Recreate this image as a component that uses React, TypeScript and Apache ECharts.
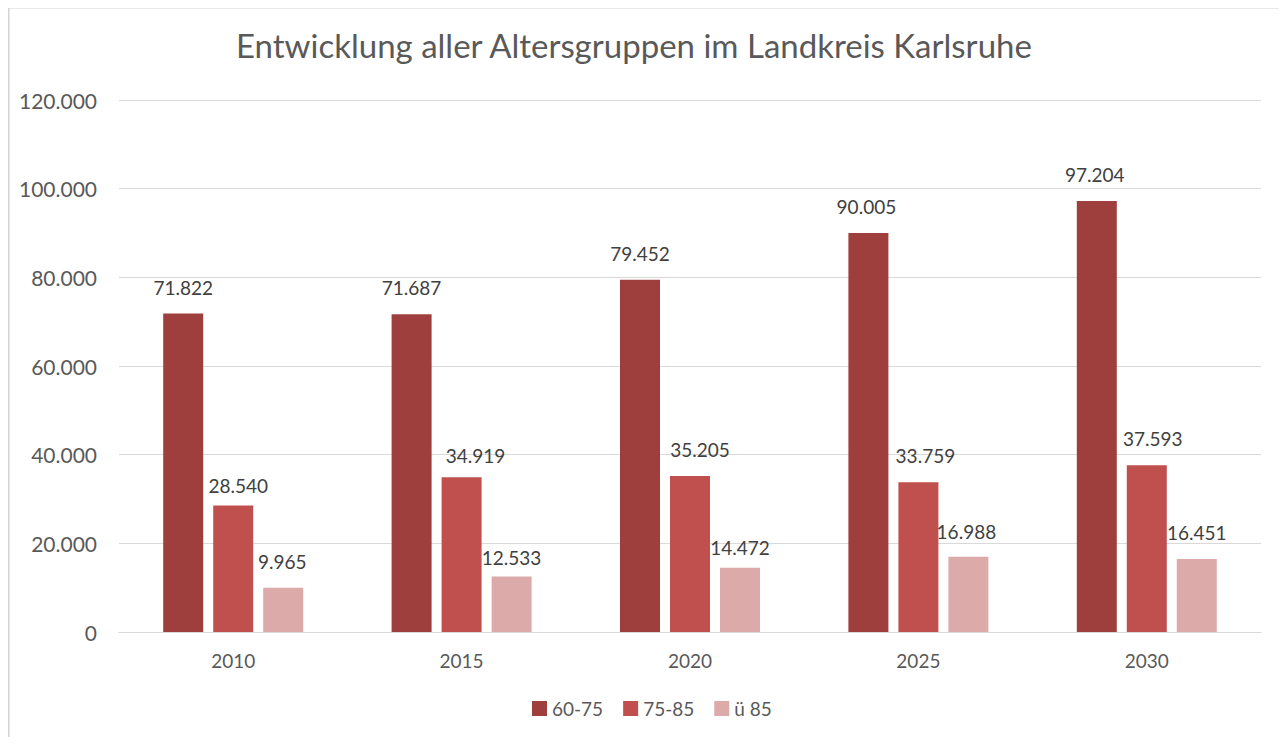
import React, { useEffect, useRef } from "react";
import * as echarts from "echarts";

const categories = ["2010", "2015", "2020", "2025", "2030"];
const seriesNames = ["60-75", "75-85", "ü 85"];
const values6075 = [71822, 71687, 79452, 90005, 97204];
const values7585 = [28540, 34919, 35205, 33759, 37593];
const valuesU85 = [9965, 12533, 14472, 16988, 16451];
const colors = ["#9e3f3d", "#c0504d", "#dbaaa9"];
const title = "Entwicklung aller Altersgruppen im Landkreis Karlsruhe";

// small label nudges [dx, dy] in px, as placed in the original
const labelNudge6075 = [[0, 0], [0, 0], [0, 0], [-2, 0], [-2, 0]];
const labelNudge7585 = [[5, 7], [14, 5], [10, 0], [7, 0], [6, 0]];
const labelNudgeU85 = [[-1, 0], [0, 8], [0, 6], [-2, 1], [0, 0]];

const fmt = (v: number) =>
  String(Math.round(v)).replace(/\B(?=(\d{3})+(?!\d))/g, ".");

export default function App() {
  const ref = useRef<HTMLDivElement>(null);
  useEffect(() => {
    if (!ref.current) return;
    const chart = echarts.init(ref.current, undefined, { renderer: "svg" });
    const font = "Lato, 'Open Sans', sans-serif";
    const data = [values6075, values7585, valuesU85];
    const nudges = [labelNudge6075, labelNudge7585, labelNudgeU85];
    chart.setOption({
      animation: false,
      backgroundColor: "#ffffff",
      textStyle: { fontFamily: font },
      title: {
        text: title,
        left: 231,
        top: 23,
        textStyle: {
          fontFamily: font,
          fontSize: 33,
          fontWeight: 400,
          color: "#595959",
        },
      },
      graphic: [
        {
          type: "rect",
          left: 6,
          top: 5,
          z: 100,
          silent: true,
          shape: { width: 1300, height: 770 },
          style: { fill: null, stroke: "#d4d4d4", lineWidth: 2 },
        },
      ],
      legend: {
        bottom: 22,
        left: 527,
        itemWidth: 15,
        itemHeight: 15,
        itemGap: 20,
        icon: "rect",
        textStyle: { fontFamily: font, fontSize: 19, color: "#595959" },
        data: seriesNames,
      },
      grid: { left: 119, right: 26, top: 100, bottom: 113, containLabel: false },
      xAxis: {
        type: "category",
        data: categories,
        axisLine: { lineStyle: { color: "#d9d9d9", width: 1 } },
        axisTick: { show: false },
        axisLabel: { fontFamily: font, fontSize: 19, color: "#595959", margin: 19 },
      },
      yAxis: {
        type: "value",
        min: 0,
        max: 120000,
        interval: 20000,
        axisLine: { show: false },
        axisTick: { show: false },
        splitLine: { lineStyle: { color: "#d9d9d9", width: 1 } },
        axisLabel: {
          fontFamily: font,
          fontSize: 21,
          color: "#595959",
          margin: 22,
          formatter: (v: number) => fmt(v),
        },
      },
      series: seriesNames.map((name, i) => ({
        name,
        type: "bar",
        data: data[i].map((v, j) => ({
          value: v,
          label: { offset: nudges[i][j] },
        })),
        barWidth: 40,
        barGap: "25%",
        itemStyle: { color: colors[i] },
        label: {
          show: true,
          position: "top",
          distance: 17,
          fontFamily: font,
          fontSize: 19,
          color: "#404040",
          formatter: (p: any) => fmt(p.value),
        },
      })),
    });
    return () => chart.dispose();
  }, []);
  return (
    <div style={{ width: 1287, height: 745, margin: -8, background: "#fff" }}>
      <div ref={ref} style={{ width: 1287, height: 745 }} />
    </div>
  );
}
